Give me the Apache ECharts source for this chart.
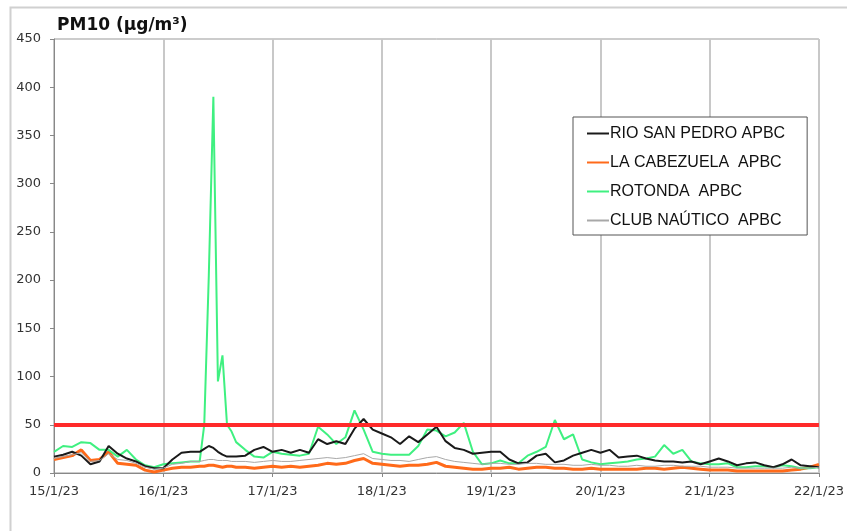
<!DOCTYPE html>
<html>
<head>
<meta charset="utf-8">
<script src="https://cdn.jsdelivr.net/npm/echarts@6/dist/echarts.min.js"></script>
<style>
  html, body { margin: 0; padding: 0; background: #fff; }
  #chart { width: 847px; height: 531px; }
</style>
</head>
<body>
<div id="chart"></div>
<script>
// hours since 15/1/23 00:00 (denser around the ROTONDA spike)
const HOURS = [0,2,4,6,8,10,12,14,16,18,20,22,24,26,28,30,32,33,34,35,36,37,38,39,
  40,42,44,46,48,50,52,54,56,58,60,62,64,66,68,70,72,74,76,78,80,82,84,86,88,90,92,94,
  96,98,100,102,104,106,108,110,112,114,116,118,120,122,124,126,128,130,132,134,136,138,
  140,142,144,146,148,150,152,154,156,158,160,162,164,166,168];

const DATE_LABELS = ['15/1/23', '16/1/23', '17/1/23', '18/1/23', '19/1/23', '20/1/23', '21/1/23', '22/1/23'];

const RIO_SAN_PEDRO = [17,19,22,18,9,12,28,20,15,12,7,5,
  5,14,21,22,22,
  25,28,26,22,19,17,17,
  17,18,24,27,22,24,21,24,21,35,30,33,
  30,46,56,45,41,37,30,38,32,40,48,33,
  26,24,20,21,22,22,14,10,11,18,20,11,
  13,18,21,24,21,24,16,17,18,15,13,12,
  12,11,12,9,12,15,12,8,10,11,8,6,
  9,14,8,7,6];

const LA_CABEZUELA = [14,16,18,24,13,14,22,10,9,8,3,1,
  3,5,6,6,7,
  7,8,8,7,6,7,7,
  6,6,5,6,7,6,7,6,7,8,10,9,
  10,13,15,10,9,8,7,8,8,9,11,7,
  6,5,4,4,5,5,6,4,5,6,6,5,
  5,4,4,5,4,4,4,4,4,5,5,4,
  5,6,5,4,3,3,3,2,2,2,2,2,
  2,3,4,6,9];

const ROTONDA = [22,28,27,32,31,24,24,17,24,14,8,6,
  9,10,11,12,12,
  50,205,390,95,122,50,43,
  32,24,17,16,22,20,19,18,20,48,40,30,
  37,65,45,22,20,19,19,19,28,45,44,38,
  42,52,22,9,10,13,10,10,18,22,27,55,
  35,40,14,11,9,10,11,12,14,15,17,29,
  20,24,12,10,9,9,10,6,6,7,7,6,
  8,7,5,5,6];

const CLUB_NAUTICO = [15,17,19,21,12,13,20,14,13,10,6,4,
  5,9,10,12,12,
  13,14,14,13,13,13,12,
  12,12,11,12,13,12,12,13,14,15,16,15,
  16,18,20,15,14,13,13,12,14,16,17,14,
  12,11,10,9,10,10,9,9,10,10,9,9,
  9,8,8,9,8,8,7,7,8,7,7,8,
  8,7,7,7,6,6,6,5,5,5,5,5,
  5,6,5,5,6];

const LIMIT_VALUE = 50;

const pairs = vals => HOURS.map((h, i) => [h, vals[i]]);

const chart = echarts.init(document.getElementById('chart'), null, { renderer: 'canvas' });

const lineSeries = (name, vals, color, width) => ({
  name,
  type: 'line',
  data: pairs(vals),
  symbol: 'none',
  showSymbol: false,
  smooth: false,
  lineStyle: { color, width },
  itemStyle: { color },
  animation: false,
});

chart.setOption({
  animation: false,
  backgroundColor: '#fff',
  graphic: [{
    type: 'rect',
    left: 8, top: 5,
    shape: { width: 850, height: 540 },
    style: { fill: 'none', stroke: '#d0d0d0', lineWidth: 2 },
    silent: true,
  }],
  title: {
    text: 'PM10 (µg/m³)',
    left: 57, top: 17,
    padding: 0,
    textStyle: { fontFamily: 'DejaVu Sans', fontWeight: 'bold', fontSize: 17, color: '#111' },
  },
  legend: {
    orient: 'vertical',
    left: 573, top: 117,
    padding: [7, 22, 5, 14],
    itemGap: 10,
    itemWidth: 22,
    itemHeight: 2,
    icon: 'rect',
    backgroundColor: '#fff',
    borderColor: '#555',
    borderWidth: 1,
    textStyle: { fontFamily: 'Liberation Sans', fontSize: 16, lineHeight: 19, color: '#111', padding: [0, 0, 0, -4] },
    data: ['RIO SAN PEDRO APBC', 'LA CABEZUELA  APBC', 'ROTONDA  APBC', 'CLUB NAÚTICO  APBC'],
  },
  grid: { left: 54, right: 27, top: 39, bottom: 58, show: true, borderColor: '#999', borderWidth: 1 },
  xAxis: {
    type: 'value',
    min: 0, max: 168, interval: 24,
    axisLine: { lineStyle: { color: '#888' } },
    axisTick: { show: true, length: 4, lineStyle: { color: '#888' } },
    axisLabel: {
      fontFamily: 'DejaVu Sans', fontSize: 13, color: '#333', margin: 12,
      formatter: v => DATE_LABELS[Math.round(v / 24)],
    },
    splitLine: { show: true, lineStyle: { color: '#c8c8c8', width: 2 } },
  },
  yAxis: {
    type: 'value',
    min: 0, max: 450, interval: 50,
    axisLine: { show: true, lineStyle: { color: '#888' } },
    axisTick: { show: true, length: 4, lineStyle: { color: '#888' } },
    axisLabel: { fontFamily: 'DejaVu Sans', fontSize: 13, color: '#333', margin: 13 },
    splitLine: { show: false },
  },
  series: [
    Object.assign(lineSeries('RIO SAN PEDRO APBC', RIO_SAN_PEDRO, '#1a1a1a', 2), {
      markLine: {
        silent: true,
        symbol: 'none',
        animation: false,
        label: { show: false },
        lineStyle: { color: '#ff2a2a', width: 4, type: 'solid' },
        data: [{ yAxis: LIMIT_VALUE }],
      },
      z: 3,
    }),
    Object.assign(lineSeries('LA CABEZUELA  APBC', LA_CABEZUELA, '#ff6a1a', 3), { z: 2 }),
    Object.assign(lineSeries('ROTONDA  APBC', ROTONDA, '#3ff080', 2), { z: 2 }),
    Object.assign(lineSeries('CLUB NAÚTICO  APBC', CLUB_NAUTICO, '#a8a8a8', 1), { z: 4 }),
  ],
});
</script>
</body>
</html>
